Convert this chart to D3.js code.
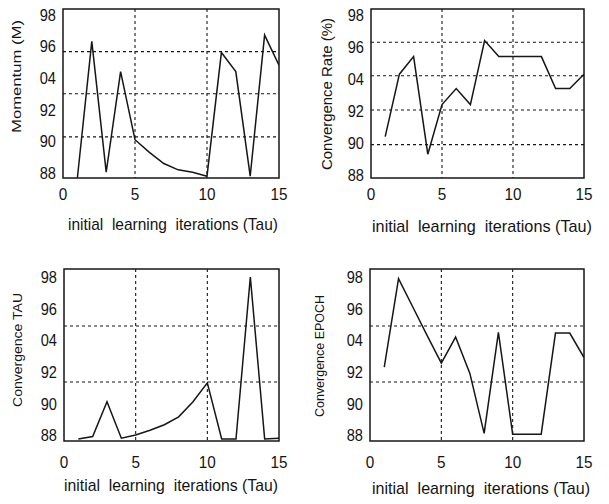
<!DOCTYPE html>
<html>
<head>
<meta charset="utf-8">
<script src="https://cdn.jsdelivr.net/npm/d3@7"></script>
<style>
  html, body { margin: 0; padding: 0; background: #fff; }
  svg { display: block; }
  text { font-family: "Liberation Sans", Arial, Helvetica, sans-serif; fill: #141414; }
</style>
</head>
<body>
<svg id="chart" width="609" height="504"></svg>
<script>
// Shared axes
const iterations = [1, 2, 3, 4, 5, 6, 7, 8, 9, 10, 11, 12, 13, 14, 15];
const xTickValues = [0, 5, 10, 15];
const yTickValues = [88, 90, 92, 94, 96, 98];
const yTickLabels = ["88", "90", "92", "04", "96", "98"];
const xTitle = "initial  learning  iterations (Tau)";

// Series (one per panel)
const momentum = [87.7, 96.3, 88.06, 94.4, 90.1, 89.3, 88.6, 88.2, 88.05, 87.8, 95.6, 94.4, 87.8, 96.7, 94.8];
const convergenceRate = [90.4, 94.3, 95.4, 89.3, 92.4, 93.4, 92.4, 96.4, 95.4, 95.4, 95.4, 95.4, 93.4, 93.4, 94.3];
const convergenceTau = [87.75, 87.9, 90.1, 87.8, 88.0, 88.3, 88.65, 89.15, 90.1, 91.3, 87.75, 87.75, 98.0, 87.75, 87.8];
const convergenceEpoch = [92.3, 97.9, 96.1, 94.3, 92.55, 94.2, 91.9, 88.1, 94.5, 88.05, 88.05, 88.05, 94.45, 94.45, 92.9];

// Horizontal dashed reference lines of each panel
const gridMomentum = [95.66, 93.0, 90.28];
const gridRate = [96.3, 94.2, 92.06, 89.9];
const gridTau = [94.9, 91.35];
const gridEpoch = [94.9, 91.35];
const gridX = [5, 10];

// Axis titles
const yTitles = ["Momentum (M)", "Convergence Rate (%)", "Convergence TAU", "Convergence EPOCH"];

// Panel geometry
const panels = [
  { values: momentum, grid: gridMomentum, title: yTitles[0],
    left: 63, right: 279, top: 9, bottom: 178, y88: 173, y98: 14.5,
    xTickBase: 200, xTitleX: 68, xTitleW: 210, xTitleBase: 230,
    yTitleX: 17, yTitleY: 76.5, yTitleSize: 12.5, yTitleW: 113 },
  { values: convergenceRate, grid: gridRate, title: yTitles[1],
    left: 371, right: 584, top: 9, bottom: 178, y88: 175, y98: 15,
    xTickBase: 200, xTitleX: 372, xTitleW: 220, xTitleBase: 232,
    yTitleX: 326, yTitleY: 94, yTitleSize: 15, yTitleW: 152 },
  { values: convergenceTau, grid: gridTau, title: yTitles[2],
    left: 64, right: 279, top: 269, bottom: 441, y88: 435, y98: 277,
    xTickBase: 468, xTitleX: 64, xTitleW: 214, xTitleBase: 491,
    yTitleX: 17, yTitleY: 350, yTitleSize: 13.5, yTitleW: 114 },
  { values: convergenceEpoch, grid: gridEpoch, title: yTitles[3],
    left: 370, right: 584, top: 269, bottom: 441, y88: 435, y98: 277,
    xTickBase: 468, xTitleX: 372, xTitleW: 218, xTitleBase: 494,
    yTitleX: 320, yTitleY: 356, yTitleSize: 12.5, yTitleW: 122 }
];

const svg = d3.select("#chart");
const ink = "#161616";

panels.forEach((p, i) => {
  const x = d3.scaleLinear().domain([0, 15]).range([p.left, p.right]);
  const y = d3.scaleLinear().domain([88, 98]).range([p.y88, p.y98]);
  const g = svg.append("g");

  const clipId = "clip" + i;
  svg.append("clipPath").attr("id", clipId)
    .append("rect")
    .attr("x", p.left).attr("y", p.top)
    .attr("width", p.right - p.left).attr("height", p.bottom - p.top);

  // dashed grid
  g.selectAll(".hgrid").data(p.grid).join("line")
    .attr("x1", p.left).attr("x2", p.right)
    .attr("y1", d => y(d)).attr("y2", d => y(d))
    .attr("stroke", ink).attr("stroke-width", 1.1)
    .attr("stroke-dasharray", "3,3");
  g.selectAll(".vgrid").data(gridX).join("line")
    .attr("x1", d => x(d)).attr("x2", d => x(d))
    .attr("y1", p.top).attr("y2", p.bottom)
    .attr("stroke", ink).attr("stroke-width", 1.1)
    .attr("stroke-dasharray", "3,3");

  // series line
  const line = d3.line().x((d, j) => x(iterations[j])).y(d => y(d));
  g.append("path")
    .datum(p.values)
    .attr("clip-path", `url(#${clipId})`)
    .attr("d", line)
    .attr("fill", "none")
    .attr("stroke", ink)
    .attr("stroke-width", 1.5)
    .attr("stroke-linejoin", "miter");

  // frame
  g.append("rect")
    .attr("x", p.left).attr("y", p.top)
    .attr("width", p.right - p.left).attr("height", p.bottom - p.top)
    .attr("fill", "none").attr("stroke", ink).attr("stroke-width", 1.5);

  // y tick labels
  g.selectAll(".ytick").data(yTickValues).join("text")
    .attr("transform", d => `translate(${p.left - 7},${y(d)}) scale(0.86,1)`)
    .attr("dy", "0.36em")
    .attr("text-anchor", "end")
    .style("font-size", "17px")
    .text((d, j) => yTickLabels[j]);

  // x tick labels
  g.selectAll(".xtick").data(xTickValues).join("text")
    .attr("transform", d => `translate(${x(d)},${p.xTickBase}) scale(0.9,1)`)
    .attr("text-anchor", "middle")
    .style("font-size", "17px")
    .text(d => d);

  // x title
  g.append("text")
    .attr("x", p.xTitleX).attr("y", p.xTitleBase)
    .attr("textLength", p.xTitleW)
    .attr("lengthAdjust", "spacingAndGlyphs")
    .style("font-size", "17px")
    .style("white-space", "pre")
    .text(xTitle);

  // y title
  g.append("text")
    .attr("transform", `translate(${p.yTitleX},${p.yTitleY}) rotate(-90)`)
    .attr("text-anchor", "middle")
    .attr("dominant-baseline", "central")
    .attr("textLength", p.yTitleW)
    .attr("lengthAdjust", "spacingAndGlyphs")
    .style("font-size", p.yTitleSize + "px")
    .text(p.title);
});
</script>
</body>
</html>
